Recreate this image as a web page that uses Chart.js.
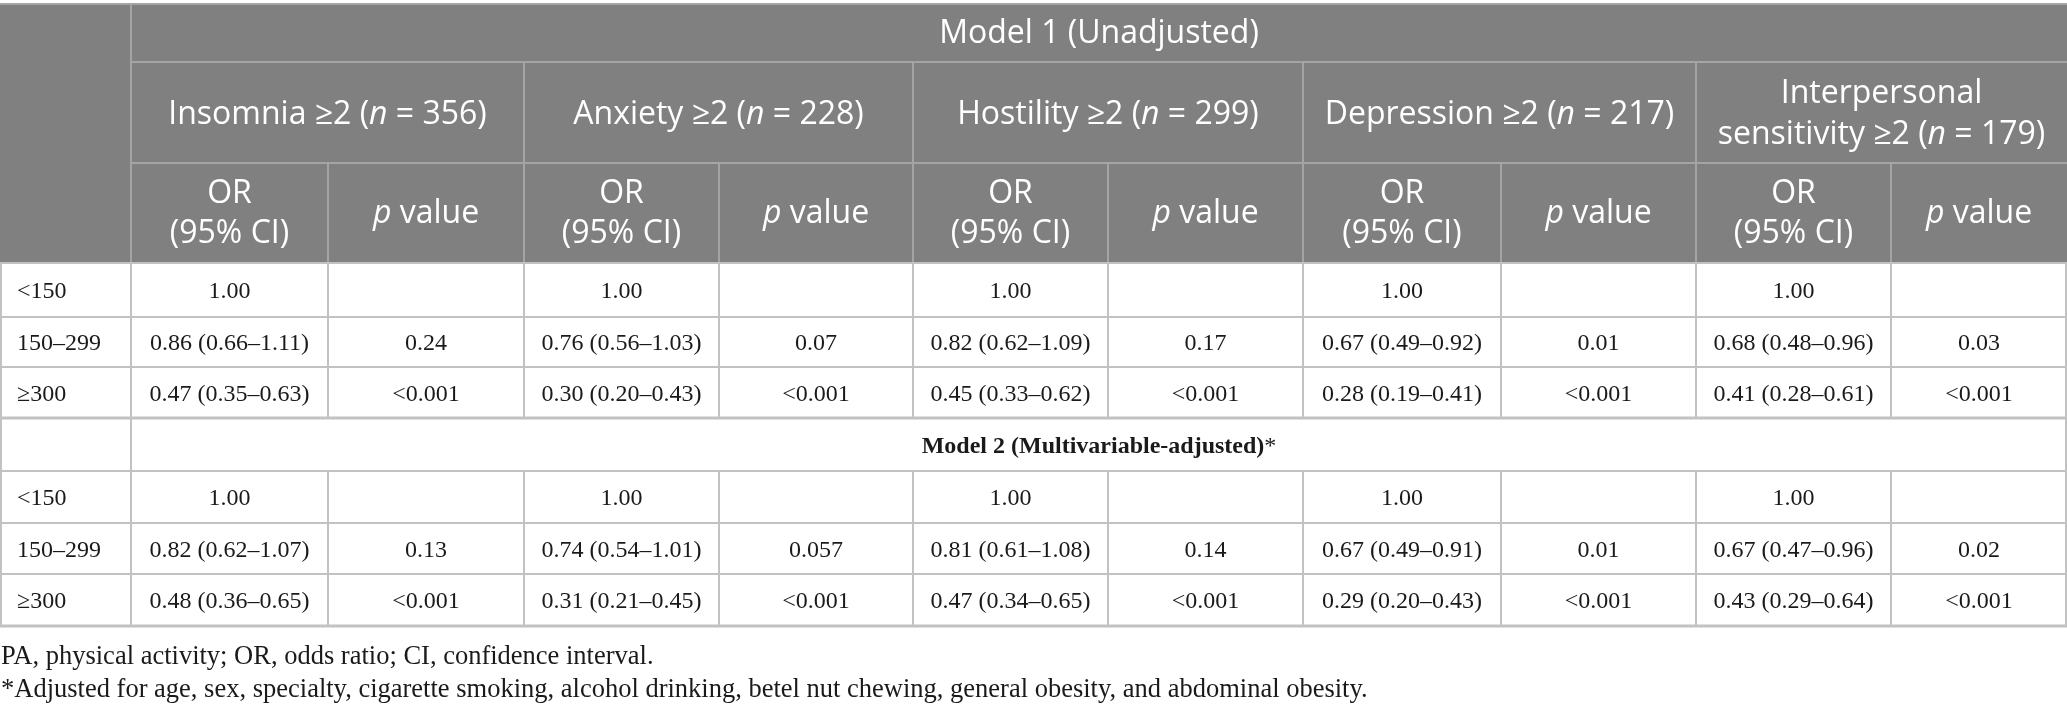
<!DOCTYPE html>
<html>
<head>
<meta charset="utf-8">
<script src="https://cdn.jsdelivr.net/npm/chart.js@4"></script>
<style>
  html, body { margin: 0; padding: 0; background: #fff; }
  #wrap { width: 2067px; height: 717px; }
</style>
</head>
<body>
<div id="wrap"><canvas id="oddsTable" width="2067" height="717"></canvas></div>
<script>
// ---- table content ----
const groups = ['<150', '150–299', '≥300'];
const outcomeNames = ['Insomnia', 'Anxiety', 'Hostility', 'Depression', 'Interpersonal\nsensitivity'];
const outcomeN = [356, 228, 299, 217, 179];

const model1OR = [
    ['1.00', '1.00', '1.00', '1.00', '1.00'],
    ['0.86 (0.66–1.11)', '0.76 (0.56–1.03)', '0.82 (0.62–1.09)', '0.67 (0.49–0.92)', '0.68 (0.48–0.96)'],
    ['0.47 (0.35–0.63)', '0.30 (0.20–0.43)', '0.45 (0.33–0.62)', '0.28 (0.19–0.41)', '0.41 (0.28–0.61)']
];
const model1P = [
    ['', '', '', '', ''],
    ['0.24', '0.07', '0.17', '0.01', '0.03'],
    ['<0.001', '<0.001', '<0.001', '<0.001', '<0.001']
];
const model2OR = [
    ['1.00', '1.00', '1.00', '1.00', '1.00'],
    ['0.82 (0.62–1.07)', '0.74 (0.54–1.01)', '0.81 (0.61–1.08)', '0.67 (0.49–0.91)', '0.67 (0.47–0.96)'],
    ['0.48 (0.36–0.65)', '0.31 (0.21–0.45)', '0.47 (0.34–0.65)', '0.29 (0.20–0.43)', '0.43 (0.29–0.64)']
];
const model2P = [
    ['', '', '', '', ''],
    ['0.13', '0.057', '0.14', '0.01', '0.02'],
    ['<0.001', '<0.001', '<0.001', '<0.001', '<0.001']
];

const model1Title = 'Model 1 (Unadjusted)';
const model2Title = 'Model 2 (Multivariable-adjusted)';
const footnotes = [
    'PA, physical activity; OR, odds ratio; CI, confidence interval.',
    '*Adjusted for age, sex, specialty, cigarette smoking, alcohol drinking, betel nut chewing, general obesity, and abdominal obesity.'
];

// ---- layout (units of the hidden linear scales) ----
const colEdges = [0, 131, 328, 524, 719, 913, 1108, 1303, 1501, 1696, 1891, 2067];
const headEdges = [4, 62, 163, 263];
const bodyEdges = [263, 317, 367, 418, 471, 523, 574, 626];
const footY = [657, 690];

const headBg = '#808080';
const headLine = '#a4a4a4';
const bodyLine = '#c2c2c2';
const textDark = '#1a1a1a';
const sansFont = '"Open Sans", "Noto Sans", sans-serif';
const serifFont = '"Liberation Serif", "Times New Roman", serif';

function fontOf(part, size, family) {
    return (part.italic ? 'italic ' : '') + (part.bold ? 'bold ' : '') + size + 'px ' + family;
}

// draws a line made of plain / italic / bold pieces, centred on cx
function drawRich(ctx, parts, cx, cy, size, family, color) {
    let total = 0;
    parts.forEach(p => {
        ctx.font = fontOf(p, size, family);
        p.w = ctx.measureText(p.text).width;
        total += p.w;
    });
    let x = cx - total / 2;
    ctx.fillStyle = color;
    ctx.textAlign = 'left';
    ctx.textBaseline = 'middle';
    parts.forEach(p => {
        ctx.font = fontOf(p, size, family);
        ctx.fillText(p.text, x, cy);
        x += p.w;
    });
}

function hLine(ctx, x1, x2, y, color, w) {
    ctx.strokeStyle = color;
    ctx.lineWidth = w || 2;
    ctx.beginPath();
    ctx.moveTo(x1, y);
    ctx.lineTo(x2, y);
    ctx.stroke();
}

function vLine(ctx, x, y1, y2, color) {
    ctx.strokeStyle = color;
    ctx.lineWidth = 2;
    ctx.beginPath();
    ctx.moveTo(x, y1);
    ctx.lineTo(x, y2);
    ctx.stroke();
}

const tablePlugin = {
    id: 'tablePlugin',
    afterDraw(chart) {
        const ctx = chart.ctx;
        const px = v => chart.scales.x.getPixelForValue(v);
        const py = v => chart.scales.y.getPixelForValue(v);
        const left = px(colEdges[0]);
        const right = px(colEdges[colEdges.length - 1]);
        const mid = (a, b) => (a + b) / 2;

        ctx.save();

        // header block
        ctx.fillStyle = headBg;
        ctx.fillRect(left, py(headEdges[0]), right - left, py(headEdges[3]) - py(headEdges[0]));

        const hs = 32;
        drawRich(ctx, [{ text: model1Title }], mid(px(colEdges[1]), right),
            mid(py(headEdges[0]), py(headEdges[1])) + 1, hs, sansFont, '#fff');

        outcomeNames.forEach((name, i) => {
            const cx = mid(px(colEdges[1 + i * 2]), px(colEdges[3 + i * 2]));
            const lines = name.split('\n');
            const top = py(headEdges[1]), bot = py(headEdges[2]);
            const lh = 41;
            const y0 = mid(top, bot) + 2 - (lines.length - 1) * lh / 2;
            lines.forEach((ln, k) => {
                let parts = [{ text: ln }];
                if (k === lines.length - 1) {
                    parts = [{ text: ln + ' ≥2 (' }, { text: 'n', italic: true }, { text: ' = ' + outcomeN[i] + ')' }];
                }
                drawRich(ctx, parts, cx, y0 + k * lh, hs, sansFont, '#fff');
            });

            const top3 = py(headEdges[2]), bot3 = py(headEdges[3]);
            const orX = mid(px(colEdges[1 + i * 2]), px(colEdges[2 + i * 2]));
            const pX = mid(px(colEdges[2 + i * 2]), px(colEdges[3 + i * 2]));
            drawRich(ctx, [{ text: 'OR' }], orX, mid(top3, bot3) - 19, hs, sansFont, '#fff');
            drawRich(ctx, [{ text: '(95% CI)' }], orX, mid(top3, bot3) + 21, hs, sansFont, '#fff');
            drawRich(ctx, [{ text: 'p', italic: true }, { text: ' value' }], pX, mid(top3, bot3) + 1, hs, sansFont, '#fff');
        });

        // header grid
        hLine(ctx, left, right, py(headEdges[0]), headLine);
        hLine(ctx, px(colEdges[1]), right, py(headEdges[1]), headLine);
        hLine(ctx, px(colEdges[1]), right, py(headEdges[2]), headLine);
        vLine(ctx, px(colEdges[1]), py(headEdges[0]), py(headEdges[3]), headLine);
        colEdges.slice(2, -1).forEach((c, j) => {
            const outer = j % 2 === 1;
            vLine(ctx, px(c), py(outer ? headEdges[1] : headEdges[2]), py(headEdges[3]), headLine);
        });

        // body rows
        const ds = 24;
        const bodyRows = [];
        groups.forEach((g, r) => bodyRows.push({ label: g, or: model1OR[r], p: model1P[r] }));
        bodyRows.push(null);
        groups.forEach((g, r) => bodyRows.push({ label: g, or: model2OR[r], p: model2P[r] }));

        bodyRows.forEach((row, r) => {
            const cy = mid(py(bodyEdges[r]), py(bodyEdges[r + 1])) + 2;
            if (!row) {
                drawRich(ctx, [{ text: model2Title, bold: true }, { text: '*' }],
                    mid(px(colEdges[1]), right), cy, 24, serifFont, textDark);
                return;
            }
            ctx.font = ds + 'px ' + serifFont;
            ctx.fillStyle = textDark;
            ctx.textAlign = 'left';
            ctx.textBaseline = 'middle';
            ctx.fillText(row.label, px(colEdges[0]) + 17, cy);
            row.or.forEach((v, i) => {
                drawRich(ctx, [{ text: v }], mid(px(colEdges[1 + i * 2]), px(colEdges[2 + i * 2])), cy, ds, serifFont, textDark);
                drawRich(ctx, [{ text: row.p[i] }], mid(px(colEdges[2 + i * 2]), px(colEdges[3 + i * 2])), cy, ds, serifFont, textDark);
            });
        });

        // body grid
        bodyEdges.forEach((e, k) => {
            const thick = (k === 3 || k === bodyEdges.length - 1) ? 3 : 2;
            hLine(ctx, left, right, py(e), bodyLine, thick);
        });
        for (let r = 0; r < bodyEdges.length - 1; r++) {
            const y1 = py(bodyEdges[r]), y2 = py(bodyEdges[r + 1]);
            colEdges.forEach((c, k) => {
                if (r === 3 && k > 1 && k < colEdges.length - 1) return;
                let x = px(c);
                if (k === 0) x += 1;
                if (k === colEdges.length - 1) x -= 1;
                vLine(ctx, x, y1, y2, bodyLine);
            });
        }

        // notes under the table
        ctx.font = '26.5px ' + serifFont;
        ctx.fillStyle = textDark;
        ctx.textAlign = 'left';
        ctx.textBaseline = 'middle';
        footnotes.forEach((t, k) => ctx.fillText(t, left + 1, py(footY[k])));

        ctx.restore();
    }
};

new Chart(document.getElementById('oddsTable'), {
    type: 'scatter',
    data: { datasets: [{ data: [], pointRadius: 0 }] },
    options: {
        responsive: false,
        animation: false,
        layout: { padding: 0 },
        plugins: { legend: { display: false }, tooltip: { enabled: false } },
        scales: {
            x: { type: 'linear', min: 0, max: 2067, display: false },
            y: { type: 'linear', min: 0, max: 717, reverse: true, display: false }
        }
    },
    plugins: [tablePlugin]
});
</script>
</body>
</html>
